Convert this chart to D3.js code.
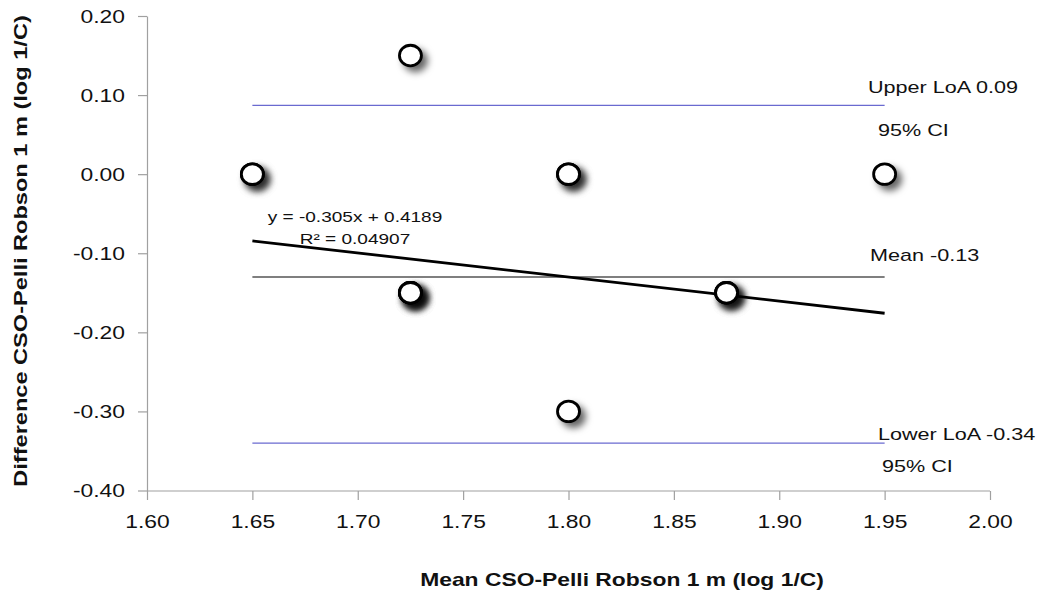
<!DOCTYPE html>
<html><head><meta charset="utf-8">
<script src="https://cdn.jsdelivr.net/npm/d3@7"></script>
<style>body{margin:0;background:#fff}svg{display:block;font-family:"Liberation Sans",Arial,sans-serif}</style>
</head><body><svg id="c" width="1038" height="599"></svg>
<script>
const pointsX = [1.65, 1.65, 1.725, 1.80, 1.80, 1.95, 1.725, 1.725, 1.725, 1.725, 1.875, 1.875, 1.875, 1.80];
const pointsY = [0.00, 0.00, 0.15, 0.00, 0.00, 0.00, -0.15, -0.15, -0.15, -0.15, -0.15, -0.15, -0.15, -0.30];
const xTicks = [1.60, 1.65, 1.70, 1.75, 1.80, 1.85, 1.90, 1.95, 2.00];
const yTicks = [0.20, 0.10, 0.00, -0.10, -0.20, -0.30, -0.40];
const lineRange = [1.65, 1.95];
const meanDiff = -0.13;
const upperLoA = 0.087;
const lowerLoA = -0.34;
const slope = -0.305, intercept = 0.4189;

const SX = 1.27;
const svg = d3.select("#c");
const x = d3.scaleLinear().domain([1.60, 2.00]).range([147, 990]);
const y = d3.scaleLinear().domain([-0.40, 0.20]).range([490.5, 16]);
const fmt = v => d3.format(".2f")(v).replace("\u2212","-");

const defs = svg.append("defs");
const f = defs.append("filter").attr("id","sh").attr("x","-100%").attr("y","-100%").attr("width","300%").attr("height","300%");
f.append("feDropShadow").attr("dx",5).attr("dy",5).attr("stdDeviation",3.5).attr("flood-color","#000").attr("flood-opacity",0.6);

// axes
const ya = svg.append("g").attr("transform","translate(147,0)")
  .call(d3.axisLeft(y).tickValues(yTicks).tickFormat(fmt).tickSize(9).tickSizeOuter(0));
const xa = svg.append("g").attr("transform","translate(0,491)")
  .call(d3.axisBottom(x).tickValues(xTicks).tickFormat(fmt).tickSize(9).tickSizeOuter(0));
[ya, xa].forEach(g => {
  g.selectAll("path,line").attr("stroke","#a0a0a0").attr("stroke-width",1.2);
  g.selectAll("text").attr("font-size",18).attr("fill","#111").attr("font-family","'Liberation Sans',Arial,sans-serif");
});
ya.selectAll("text").attr("x",-22/SX).attr("dy","0.35em").attr("transform",`scale(${SX},1)`);
xa.selectAll("text").attr("y",24).attr("dy","0.71em").attr("transform",`scale(${SX},1)`);
xa.select(".domain").attr("d","M147,0H990");

// reference lines
svg.append("line").attr("x1",x(lineRange[0])).attr("x2",x(lineRange[1])).attr("y1",y(upperLoA)).attr("y2",y(upperLoA)).attr("stroke","#6a6ad0").attr("stroke-width",1.3);
svg.append("line").attr("x1",x(lineRange[0])).attr("x2",x(lineRange[1])).attr("y1",y(lowerLoA)).attr("y2",y(lowerLoA)).attr("stroke","#6a6ad0").attr("stroke-width",1.3);
svg.append("line").attr("x1",x(lineRange[0])).attr("x2",x(lineRange[1])).attr("y1",y(meanDiff)).attr("y2",y(meanDiff)).attr("stroke","#555").attr("stroke-width",1.5);

// regression line
svg.append("line").attr("x1",x(lineRange[0])).attr("x2",x(lineRange[1]))
  .attr("y1",y(slope*lineRange[0]+intercept)).attr("y2",y(slope*lineRange[1]+intercept))
  .attr("stroke","#000").attr("stroke-width",2.8);

// points
svg.append("g").selectAll("ellipse").data(pointsX.map((d,i)=>[d,pointsY[i]])).join("ellipse")
  .attr("cx",d=>x(d[0])).attr("cy",d=>y(d[1])).attr("rx",11).attr("ry",10.3)
  .attr("fill","#fff").attr("stroke","#000").attr("stroke-width",2.8).attr("filter","url(#sh)");

// labels
const lab = (t,xx,yy,fs,anchor) => svg.append("text")
  .attr("transform",`translate(${xx},${yy}) scale(${SX},1)`)
  .attr("font-size",fs).attr("fill","#111").attr("text-anchor",anchor||"start").text(t);
lab("Upper LoA 0.09",868,93,17);
lab("95% CI",878,136,17);
lab("Mean -0.13",870,261,17);
lab("Lower LoA -0.34",878,440,17);
lab("95% CI",882,472,17);
lab("y = -0.305x + 0.4189",355,222,15,"middle");
lab("R² = 0.04907",355,244,15,"middle");

// axis titles
svg.append("text").attr("transform",`translate(622,586) scale(${SX},1)`).attr("text-anchor","middle").attr("font-size",18).attr("font-weight","bold").attr("fill","#111")
  .text("Mean CSO-Pelli Robson 1 m (log 1/C)");
svg.append("text").attr("transform",`translate(27,251) scale(1,1.31) rotate(-90)`).attr("text-anchor","middle").attr("font-size",18).attr("font-weight","bold").attr("fill","#111")
  .text("Difference CSO-Pelli Robson 1 m (log 1/C)");
</script></body></html>
